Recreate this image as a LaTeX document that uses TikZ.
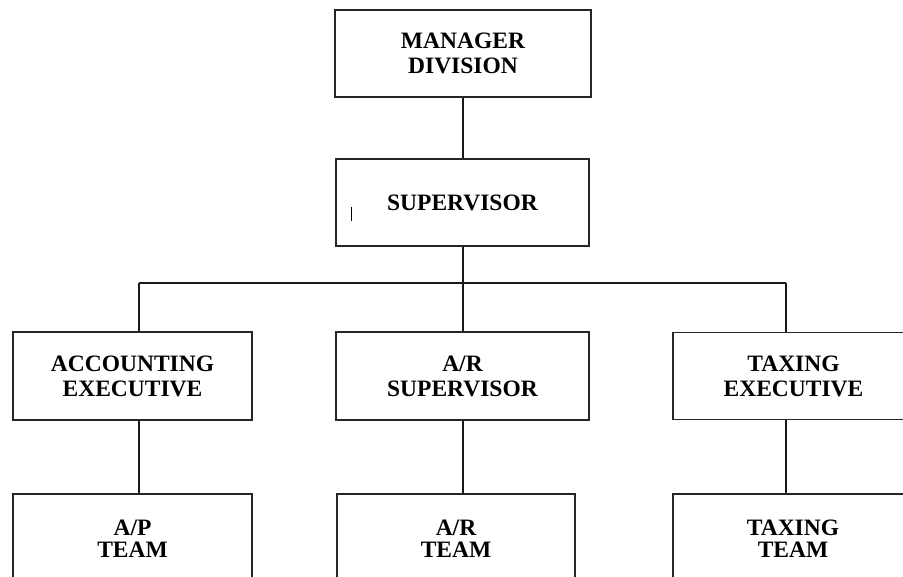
\documentclass[tikz,border=0pt]{standalone}
\usepackage{fontspec}
\setmainfont{Liberation Serif}
\begin{document}
\begin{tikzpicture}[x=1pt,y=-1pt,
  box/.style={draw=black!85,line width=1.8pt,rectangle,inner sep=0pt,align=center,
    font=\bfseries\fontsize{23.5}{25}\selectfont},
  lowbox/.style={box,font=\bfseries\fontsize{23.5}{22}\selectfont},
  conn/.style={draw=black!90,line width=2pt}]
\useasboundingbox (0,0) rectangle (903,577);
\clip (0,0) rectangle (903,577);
\node[box,minimum width=256pt,minimum height=87pt] (mgr) at (463,53.5) {MANAGER\\DIVISION};
\node[box,minimum width=253pt,minimum height=87pt] (sup) at (462.5,202.5) {SUPERVISOR};
\node[box,minimum width=239pt,minimum height=88pt] (acc) at (132.5,376) {ACCOUNTING\\EXECUTIVE};
\node[box,minimum width=253pt,minimum height=88pt] (ars) at (462.5,376) {A/R\\SUPERVISOR};
\node[box,minimum width=241pt,minimum height=87pt] (tax) at (793.5,376) {TAXING\\EXECUTIVE};
\node[lowbox,minimum width=239pt,minimum height=90pt] (apt) at (132.5,539) {A/P\\TEAM};
\node[lowbox,minimum width=238pt,minimum height=90pt] (art) at (456,539) {A/R\\TEAM};
\node[lowbox,minimum width=240pt,minimum height=90pt] (txt) at (793,539) {TAXING\\TEAM};
\coordinate (bl) at (139,283);
\coordinate (bc) at (463,283);
\coordinate (br) at (786,283);
\draw[conn] (bc |- mgr.south) -- (bc |- sup.north);
\draw[conn] (bc |- sup.south) -- (bc |- ars.north);
\draw[conn] (bl) -- (br);
\draw[conn] (bl) -- (bl |- acc.north);
\draw[conn] (br) -- (br |- tax.north);
\draw[conn] (bl |- acc.south) -- (bl |- apt.north);
\draw[conn] (bc |- ars.south) -- (bc |- art.north);
\draw[conn] (br |- tax.south) -- (br |- txt.north);
\coordinate (cur1) at (351,207);
\coordinate (cur2) at (351,221);
\draw[line width=1pt] (cur1) -- (cur2);
\end{tikzpicture}
\end{document}
